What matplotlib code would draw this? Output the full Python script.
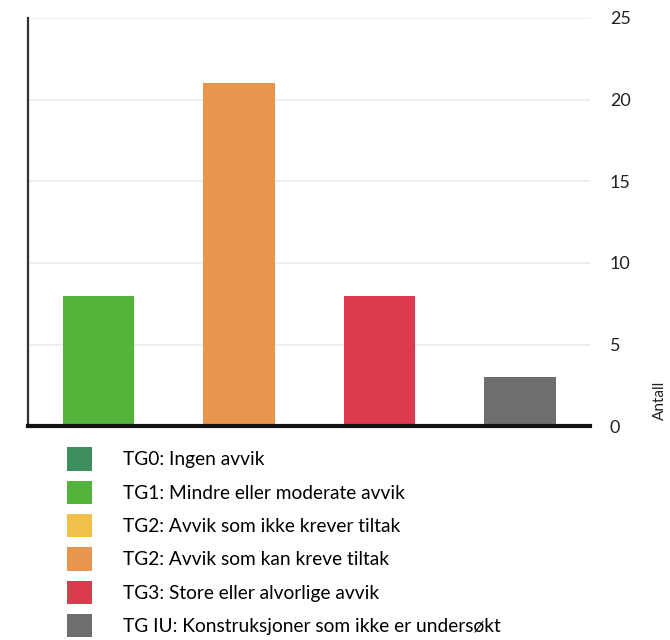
import matplotlib.pyplot as plt
from matplotlib.patches import Patch

# Data
categories = ["TG1", "TG2", "TG3", "TG IU"]
values = [8, 21, 8, 3]
bar_colors = ["#52b43a", "#e99550", "#dc3a4f", "#6e6e6e"]

legend_labels = [
    "TG0: Ingen avvik",
    "TG1: Mindre eller moderate avvik",
    "TG2: Avvik som ikke krever tiltak",
    "TG2: Avvik som kan kreve tiltak",
    "TG3: Store eller alvorlige avvik",
    "TG IU: Konstruksjoner som ikke er undersøkt",
]
legend_colors = ["#3d8f5e", "#52b43a", "#f0c048", "#e99550", "#dc3a4f", "#6e6e6e"]
y_ticks = [0, 5, 10, 15, 20, 25]

plt.rcParams['font.family'] = ['Lato', 'DejaVu Sans']

fig = plt.figure(figsize=(6.7, 6.4), dpi=100)
ax = fig.add_axes([0.042, 0.334, 0.839, 0.638])

x = range(len(categories))
ax.bar(x, values, width=0.51, color=bar_colors, zorder=3)

ax.set_xlim(-0.5, 3.5)
ax.set_ylim(0, 25)
ax.set_xticks([])
ax.set_yticks(y_ticks)
ax.yaxis.tick_right()
ax.tick_params(axis='y', length=0, pad=14, labelsize=13, labelcolor='#222222')
ax.yaxis.grid(True, color='#ebebeb', linewidth=1.2, zorder=0)

for side in ['top', 'right']:
    ax.spines[side].set_visible(False)
ax.spines['bottom'].set_linewidth(3)
ax.spines['bottom'].set_color('#111111')
ax.spines['bottom'].set_zorder(4)
ax.spines['left'].set_linewidth(1.6)
ax.spines['left'].set_color('#333333')

fig.text(0.985, 0.375, "Antall", rotation=90, ha='center', va='center',
         fontsize=11, color='#222222')

handles = [Patch(facecolor=c, edgecolor='none') for c in legend_colors]
fig.legend(handles, legend_labels, loc='upper left', bbox_to_anchor=(0.1, 0.301),
           frameon=False, fontsize=13.8, handlelength=1.3, handleheight=1.5,
           handletextpad=1.6, labelspacing=0.52, borderaxespad=0, borderpad=0)

fig.savefig("out.png", dpi=100)
